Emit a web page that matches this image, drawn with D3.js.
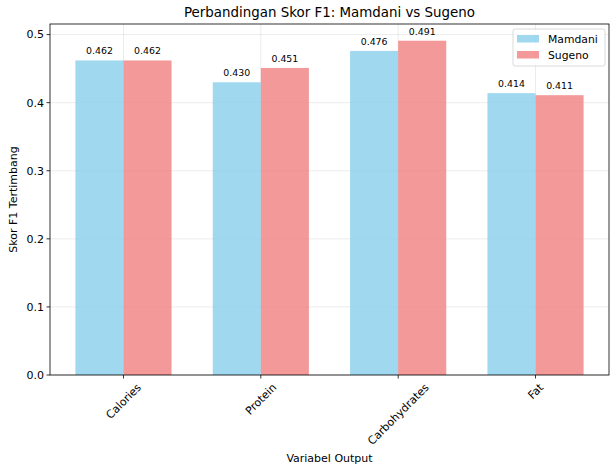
<!DOCTYPE html>
<html>
<head>
<meta charset="utf-8">
<script src="https://cdn.jsdelivr.net/npm/d3@7"></script>
<style>
  body { margin: 0; background: #fff; }
  svg text { font-family: "DejaVu Sans", sans-serif; fill: #000; }
</style>
</head>
<body>
<svg id="chart" width="614" height="470"></svg>
<script>
// chart data
const categories = ["Calories", "Protein", "Carbohydrates", "Fat"];
const seriesNames = ["Mamdani", "Sugeno"];
const mamdaniScores = [0.462, 0.430, 0.476, 0.414];
const sugenoScores = [0.462, 0.451, 0.491, 0.411];
const yTicks = [0.0, 0.1, 0.2, 0.3, 0.4, 0.5];
const seriesColors = ["#87CEEB", "#F08080"];

const svg = d3.select("#chart");
const margin = {left: 50, right: 5, top: 24, bottom: 95};
const width = 614, height = 470;
const plotW = width - margin.left - margin.right;
const plotH = height - margin.top - margin.bottom;

const barW = 0.35;
const tickFs = 11;
const x = d3.scaleLinear()
    .domain([-0.535, categories.length - 1 + 0.535])
    .range([margin.left, margin.left + plotW]);
const y = d3.scaleLinear()
    .domain([0, 0.491 * 1.05])
    .range([margin.top + plotH, margin.top]);

const g = svg.append("g");

// grid
g.selectAll(".hgrid").data(yTicks).enter().append("line")
    .attr("x1", margin.left).attr("x2", margin.left + plotW)
    .attr("y1", d => y(d)).attr("y2", d => y(d))
    .attr("stroke", "#b0b0b0").attr("stroke-opacity", 0.3).attr("stroke-width", 0.8);
g.selectAll(".vgrid").data(categories).enter().append("line")
    .attr("x1", (d, i) => x(i)).attr("x2", (d, i) => x(i))
    .attr("y1", margin.top).attr("y2", margin.top + plotH)
    .attr("stroke", "#b0b0b0").attr("stroke-opacity", 0.3).attr("stroke-width", 0.8);

// bars
const series = [mamdaniScores, sugenoScores];
series.forEach(function (vals, s) {
    let offset = s === 0 ? -barW : 0;
    g.selectAll(".bar" + s).data(vals).enter().append("rect")
        .attr("x", (d, i) => x(i + offset))
        .attr("width", x(barW) - x(0))
        .attr("y", d => y(d))
        .attr("height", d => y(0) - y(d))
        .attr("fill", seriesColors[s])
        .attr("fill-opacity", 0.8);

    g.selectAll(".lbl" + s).data(vals).enter().append("text")
        .attr("x", (d, i) => x(i + offset + barW / 2))
        .attr("y", d => y(d) - 6)
        .attr("text-anchor", "middle")
        .attr("font-size", "9.4px")
        .text(d => d.toFixed(3));
});

// spines
g.append("rect")
    .attr("x", margin.left).attr("y", margin.top)
    .attr("width", plotW).attr("height", plotH)
    .attr("fill", "none").attr("stroke", "#000").attr("stroke-width", 0.8);

// y ticks
yTicks.forEach(function (t) {
    g.append("line")
        .attr("x1", margin.left - 3.5).attr("x2", margin.left)
        .attr("y1", y(t)).attr("y2", y(t))
        .attr("stroke", "#000").attr("stroke-width", 0.8);
    g.append("text")
        .attr("x", margin.left - 6).attr("y", y(t))
        .attr("dy", "0.35em")
        .attr("text-anchor", "end")
        .attr("font-size", tickFs + "px")
        .text(t.toFixed(1));
});

// x ticks, rotated 45 with bbox centered under the tick
categories.forEach(function (c, i) {
    g.append("line")
        .attr("x1", x(i)).attr("x2", x(i))
        .attr("y1", y(0)).attr("y2", y(0) + 3.5)
        .attr("stroke", "#000").attr("stroke-width", 0.8);
    let t = g.append("text")
        .attr("text-anchor", "middle")
        .attr("dy", "0.35em")
        .attr("font-size", tickFs + "px")
        .text(c);
    let w = t.node().getComputedTextLength();
    let half = (w + tickFs) / (2 * Math.SQRT2);
    let cy = y(0) + 3.5 + 3 + half;
    t.attr("transform", "translate(" + x(i) + "," + cy + ") rotate(-45)");
});

// title + axis labels
svg.append("text")
    .attr("x", margin.left + plotW / 2).attr("y", 17)
    .attr("text-anchor", "middle").attr("font-size", "13.4px")
    .text("Perbandingan Skor F1: Mamdani vs Sugeno");
svg.append("text")
    .attr("x", margin.left + plotW / 2).attr("y", 462)
    .attr("text-anchor", "middle").attr("font-size", "11px")
    .text("Variabel Output");
svg.append("text")
    .attr("transform", "translate(17," + (margin.top + plotH / 2) + ") rotate(-90)")
    .attr("text-anchor", "middle").attr("font-size", "11px")
    .text("Skor F1 Tertimbang");

// legend
const lg = svg.append("g").attr("transform", "translate(513,29)");
lg.append("rect")
    .attr("width", 92).attr("height", 37).attr("rx", 2)
    .attr("fill", "#fff").attr("fill-opacity", 0.8)
    .attr("stroke", "#d0d0d0").attr("stroke-width", 0.8);
seriesNames.forEach(function (n, i) {
    lg.append("rect")
        .attr("x", 4).attr("y", 6 + i * 16)
        .attr("width", 22).attr("height", 7.5)
        .attr("fill", seriesColors[i]).attr("fill-opacity", 0.8);
    lg.append("text")
        .attr("x", 35).attr("y", 10 + i * 16).attr("dy", "0.35em")
        .attr("font-size", "10.8px")
        .text(n);
});
</script>
</body>
</html>
